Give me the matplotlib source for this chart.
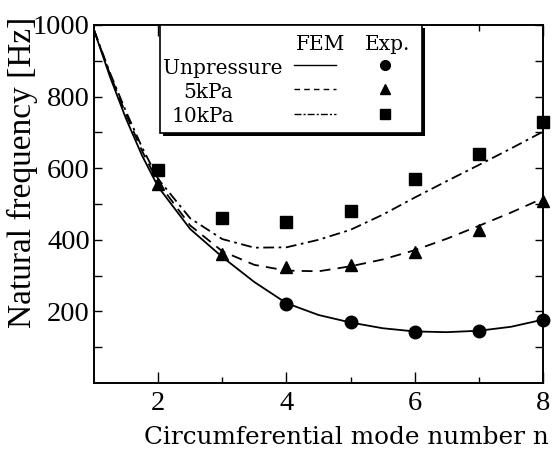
import matplotlib
matplotlib.use("Agg")
import matplotlib.pyplot as plt
from matplotlib.patches import Rectangle
from matplotlib.lines import Line2D

# FEM curves
n_fem = [1, 1.25, 1.5, 1.75, 2, 2.5, 3, 3.5, 4, 4.5, 5, 5.5, 6, 6.5, 7, 7.5, 8]
fem_unp = [986, 855, 738, 635, 548, 430, 352, 282, 223, 190, 169, 153, 144, 142, 146, 157, 177]
fem_5k = [986, 862, 750, 648, 560, 440, 368, 330, 314, 312, 326, 345, 371, 403, 439, 476, 516]
fem_10k = [986, 866, 758, 658, 570, 460, 402, 378, 379, 400, 428, 470, 518, 564, 609, 655, 702]

# Experimental points
n_exp_unp = [4, 5, 6, 7, 8]
exp_unp = [222, 169, 143, 145, 177]
n_exp = [2, 3, 4, 5, 6, 7, 8]
exp_5k = [555, 360, 325, 330, 367, 427, 507]
exp_10k = [595, 461, 451, 481, 569, 639, 729]

row_labels = ["Unpressure", "5kPa", "10kPa"]
x_ticks = [2, 4, 6, 8]
y_ticks = [200, 400, 600, 800, 1000]

W, H = 560, 451
fig = plt.figure(figsize=(W / 100, H / 100), dpi=100)
ax = fig.add_axes([94 / W, 1 - 383 / H, (543 - 94) / W, (383 - 25) / H])

lw = 1.3
ax.plot(n_fem, fem_unp, color="black", lw=lw, ls="-")
ax.plot(n_fem, fem_5k, color="black", lw=lw, ls=(0, (6, 4)))
ax.plot(n_fem, fem_10k, color="black", lw=lw, ls=(0, (6, 2.5, 1.5, 2.5)))
ax.plot(n_exp_unp, exp_unp, "o", color="black", ms=9, clip_on=False)
ax.plot(n_exp, exp_5k, "^", color="black", ms=9, clip_on=False)
ax.plot(n_exp, exp_10k, "s", color="black", ms=8, clip_on=False)

ax.set_xlim(1, 8)
ax.set_ylim(0, 1000)
ax.set_xticks(x_ticks)
ax.set_xticks([3, 5, 7], minor=True)
ax.set_yticks(y_ticks)
ax.set_yticks([100, 300, 500, 700, 900], minor=True)
tick_font = {"family": "Liberation Serif", "size": 20.5}
ax.set_xticklabels([str(v) for v in x_ticks], **tick_font)
ax.set_yticklabels([str(v) for v in y_ticks], **tick_font)
ax.tick_params(axis="both", which="both", direction="in", top=True, right=True,
               width=1.0, colors="black")
ax.tick_params(axis="x", which="major", length=8, pad=6)
ax.tick_params(axis="x", which="minor", length=4)
ax.tick_params(axis="y", which="major", length=6, pad=3)
ax.tick_params(axis="y", which="minor", length=6)
for s in ax.spines.values():
    s.set_linewidth(1.4)

ax.set_xlabel("Circumferential mode number n", family="DejaVu Serif", fontsize=17.8)
ax.xaxis.label.set_va("center")
ax.xaxis.set_label_coords((346 - 94) / 449, -(437 - 383) / 358)
ax.set_ylabel("Natural frequency [Hz]", family="Liberation Serif", fontsize=24)
ax.yaxis.label.set_va("center")
ax.yaxis.set_label_coords((22 - 94) / 449, 1 - (172 - 25) / 358)

# Legend table drawn manually (pixel positions converted to figure fraction)
def fx(px):
    return px / W

def fy(py):
    return 1 - py / H

shadow = Rectangle((fx(163), fy(136)), fx(422) - fx(160), fy(25) - fy(133),
                   transform=fig.transFigure, facecolor="black", edgecolor="none", zorder=5)
box = Rectangle((fx(160), fy(133)), fx(422) - fx(160), fy(25) - fy(133),
                transform=fig.transFigure, facecolor="white", edgecolor="black",
                lw=1.2, zorder=6)
fig.add_artist(shadow)
fig.add_artist(box)

lf = {"family": "DejaVu Serif", "fontsize": 14.5, "zorder": 7}
fig.text(fx(321), fy(44), "FEM", ha="center", va="center", **lf)
fig.text(fx(388), fy(44), "Exp.", ha="center", va="center", **lf)
row_y = [66, 90, 115]
row_x = [163, 183, 172]
styles = ["-", (0, (4, 3)), (0, (5, 1.5, 1.5, 1.5))]
markers = ["o", "^", "s"]
msz = [7, 7.5, 6.5]
for lab, yy, xx, st, mk, ms in zip(row_labels, row_y, row_x, styles, markers, msz):
    fig.text(fx(xx), fy(yy + 2), lab, ha="left", va="center", **lf)
    fig.add_artist(Line2D([fx(294), fx(336)], [fy(yy - 1), fy(yy - 1)],
                          transform=fig.transFigure, color="black", lw=1.0, ls=st, zorder=7))
    fig.add_artist(Line2D([fx(385)], [fy(yy - 1)], transform=fig.transFigure,
                          marker=mk, ms=ms, color="black", ls="none", zorder=7))

fig.savefig("out.png", dpi=100)
